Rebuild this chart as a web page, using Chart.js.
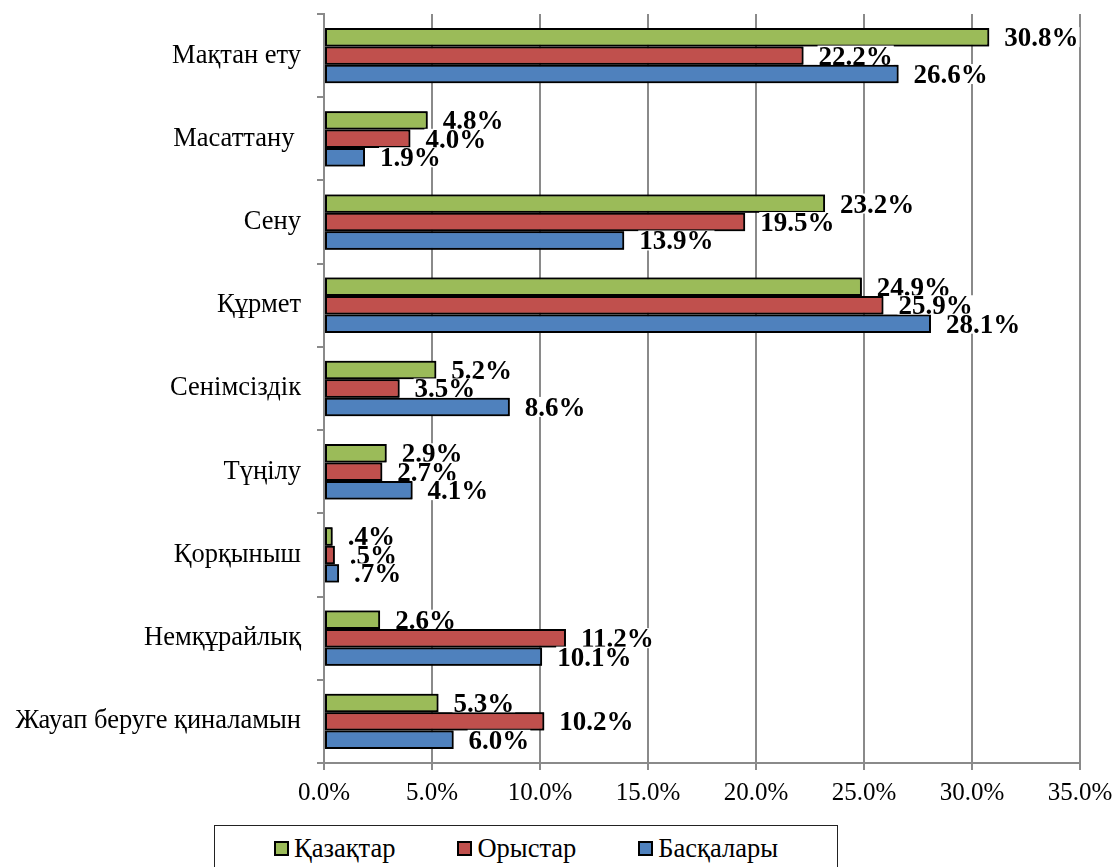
<!DOCTYPE html>
<html lang="kk">
<head>
    <meta charset="UTF-8">
    <title>Эмоциялар</title>
    <script src="https://cdn.jsdelivr.net/npm/chart.js"></script>
    <style>
        body {
            margin: 0;
            background: #ffffff;
            font-family: 'Liberation Serif', 'Times New Roman', serif;
        }
        .wrap {
            position: relative;
            width: 1116px;
            height: 867px;
            overflow: hidden;
        }
        .chart-box {
            position: absolute;
            left: 0;
            top: 0;
            width: 1116px;
            height: 825px;
        }
        /* legend frame, cut by the bottom edge like in the source */
        #legend {
            position: absolute;
            left: 214px;
            top: 825px;
            width: 624px;
            height: 60px;
            border: 1.5px solid #222;
            display: flex;
            justify-content: center;
            gap: 62px;
            padding-top: 0px;
            box-sizing: border-box;
            font-size: 26.5px;
            line-height: 44px;
            color: #000;
        }
        #legend .item { display: flex; align-items: center; height: 44px; }
        #legend .mark {
            width: 11px;
            height: 11px;
            border: 2px solid #000;
            margin-right: 5px;
        }
    </style>
</head>
<body>
    <div class="wrap">
        <div class="chart-box"><canvas id="emoChart"></canvas></div>
        <div id="legend"></div>
    </div>

    <script>
        const categories = ['Мақтан ету', 'Масаттану ', 'Сену', 'Құрмет', 'Сенімсіздік',
                            'Түңілу', 'Қорқыныш', 'Немқұрайлық', 'Жауап беруге қиналамын'];
        const seriesNames = ['Қазақтар', 'Орыстар', 'Басқалары'];
        const kazakhs = [30.8, 4.8, 23.2, 24.9, 5.2, 2.9, 0.4, 2.6, 5.3];
        const russians = [22.2, 4.0, 19.5, 25.9, 3.5, 2.7, 0.5, 11.2, 10.2];
        const others = [26.6, 1.9, 13.9, 28.1, 8.6, 4.1, 0.7, 10.1, 6.0];
        const xTicks = [0, 5, 10, 15, 20, 25, 30, 35];

        const colors = ['#9BBB59', '#C0504D', '#4F81BD'];
        const gridGray = '#8a8a8a';
        const serif = "'Liberation Serif', 'Times New Roman', serif";

        // ".4%" style like the source (no leading zero)
        function pct(v) {
            return v.toFixed(1).replace(/^0\./, '.') + '%';
        }

        // bars of each series then its labels (labels have a tight white box),
        // top series first, so the next bar down covers the label above it
        const valueLabels = {
            id: 'valueLabels',
            afterDatasetsDraw(chart) {
                const ctx = chart.ctx;
                ctx.save();
                ctx.font = 'bold 27px ' + serif;
                ctx.textAlign = 'left';
                ctx.textBaseline = 'middle';
                chart.data.datasets.forEach((ds, i) => {
                    const meta = chart.getDatasetMeta(i);
                    meta.data.forEach(bar => bar.draw(ctx));
                    meta.data.forEach((bar, j) => {
                        const txt = pct(ds.data[j]);
                        const x = bar.x + 15;
                        const y = bar.y + 2;
                        const m = ctx.measureText(txt);
                        ctx.fillStyle = '#ffffff';
                        ctx.fillRect(x - 1, y - m.actualBoundingBoxAscent - 1,
                                     m.width + 2, m.actualBoundingBoxAscent + m.actualBoundingBoxDescent + 2);
                        ctx.fillStyle = '#000000';
                        ctx.fillText(txt, x, y);
                    });
                });
                ctx.restore();
            }
        };

        const ctx = document.getElementById('emoChart').getContext('2d');
        const chart = new Chart(ctx, {
            type: 'bar',
            data: {
                labels: categories,
                datasets: [
                    { label: seriesNames[0], data: kazakhs, backgroundColor: colors[0] },
                    { label: seriesNames[1], data: russians, backgroundColor: colors[1] },
                    { label: seriesNames[2], data: others, backgroundColor: colors[2] }
                ].map(d => Object.assign(d, {
                    borderColor: '#000000',
                    borderWidth: 2,
                    borderSkipped: false,
                    categoryPercentage: 0.665,
                    barPercentage: 1.0
                }))
            },
            options: {
                indexAxis: 'y',
                responsive: true,
                maintainAspectRatio: false,
                animation: false,
                layout: { padding: { top: 14, right: 36, left: 0, bottom: 0 } },
                plugins: {
                    legend: { display: false },
                    tooltip: { enabled: false }
                },
                scales: {
                    x: {
                        min: 0,
                        max: 35,
                        afterBuildTicks: s => { s.ticks = xTicks.map(v => ({ value: v })); },
                        afterFit: s => {
                            s.height = 62;
                            s.paddingLeft = 0;
                            s.paddingRight = 0;
                        },
                        ticks: {
                            color: '#000',
                            padding: 8,
                            font: { family: serif, size: 25 },
                            callback: v => v.toFixed(1) + '%'
                        },
                        grid: { color: gridGray, lineWidth: 2, tickLength: 7 },
                        border: { color: gridGray, width: 2 }
                    },
                    y: {
                        afterFit: s => {
                            s.width = 324;
                            s.paddingTop = 0;
                            s.paddingBottom = 0;
                        },
                        ticks: {
                            color: '#000',
                            padding: 16,
                            font: { family: serif, size: 26.5 }
                        },
                        grid: { drawOnChartArea: false, color: gridGray, lineWidth: 2, tickLength: 7 },
                        border: { color: gridGray, width: 2 }
                    }
                }
            },
            plugins: [valueLabels]
        });

        // legend built from the chart's own datasets
        const legend = document.getElementById('legend');
        chart.data.datasets.forEach(ds => {
            const item = document.createElement('span');
            item.className = 'item';
            const mark = document.createElement('span');
            mark.className = 'mark';
            mark.style.background = ds.backgroundColor;
            item.appendChild(mark);
            item.appendChild(document.createTextNode(ds.label));
            legend.appendChild(item);
        });
    </script>
</body>
</html>
